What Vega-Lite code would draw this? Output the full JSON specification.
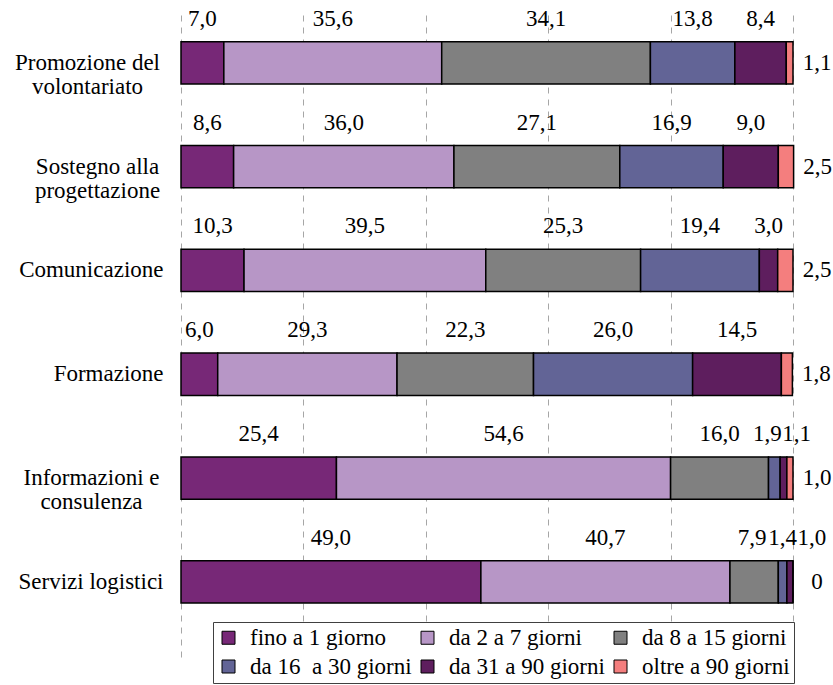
{
  "$schema": "https://vega.github.io/schema/vega-lite/v6.json",
  "width": 612,
  "height": 645,
  "autosize": {"type": "none"},
  "padding": {"left": 181, "top": 12, "right": 40, "bottom": 28},
  "background": "white",
  "config": {
    "view": {"stroke": null}
  },
  "data": {
    "values": [
      {"cat": "Promozione del volontariato", "seg": "fino a 1 giorno", "order": 1, "value": 7.0},
      {"cat": "Promozione del volontariato", "seg": "da 2 a 7 giorni", "order": 2, "value": 35.6},
      {"cat": "Promozione del volontariato", "seg": "da 8 a 15 giorni", "order": 3, "value": 34.1},
      {"cat": "Promozione del volontariato", "seg": "da 16  a 30 giorni", "order": 4, "value": 13.8},
      {"cat": "Promozione del volontariato", "seg": "da 31 a 90 giorni", "order": 5, "value": 8.4},
      {"cat": "Promozione del volontariato", "seg": "oltre a 90 giorni", "order": 6, "value": 1.1},
      {"cat": "Sostegno alla progettazione", "seg": "fino a 1 giorno", "order": 1, "value": 8.6},
      {"cat": "Sostegno alla progettazione", "seg": "da 2 a 7 giorni", "order": 2, "value": 36.0},
      {"cat": "Sostegno alla progettazione", "seg": "da 8 a 15 giorni", "order": 3, "value": 27.1},
      {"cat": "Sostegno alla progettazione", "seg": "da 16  a 30 giorni", "order": 4, "value": 16.9},
      {"cat": "Sostegno alla progettazione", "seg": "da 31 a 90 giorni", "order": 5, "value": 9.0},
      {"cat": "Sostegno alla progettazione", "seg": "oltre a 90 giorni", "order": 6, "value": 2.5},
      {"cat": "Comunicazione", "seg": "fino a 1 giorno", "order": 1, "value": 10.3},
      {"cat": "Comunicazione", "seg": "da 2 a 7 giorni", "order": 2, "value": 39.5},
      {"cat": "Comunicazione", "seg": "da 8 a 15 giorni", "order": 3, "value": 25.3},
      {"cat": "Comunicazione", "seg": "da 16  a 30 giorni", "order": 4, "value": 19.4},
      {"cat": "Comunicazione", "seg": "da 31 a 90 giorni", "order": 5, "value": 3.0},
      {"cat": "Comunicazione", "seg": "oltre a 90 giorni", "order": 6, "value": 2.5},
      {"cat": "Formazione", "seg": "fino a 1 giorno", "order": 1, "value": 6.0},
      {"cat": "Formazione", "seg": "da 2 a 7 giorni", "order": 2, "value": 29.3},
      {"cat": "Formazione", "seg": "da 8 a 15 giorni", "order": 3, "value": 22.3},
      {"cat": "Formazione", "seg": "da 16  a 30 giorni", "order": 4, "value": 26.0},
      {"cat": "Formazione", "seg": "da 31 a 90 giorni", "order": 5, "value": 14.5},
      {"cat": "Formazione", "seg": "oltre a 90 giorni", "order": 6, "value": 1.8},
      {"cat": "Informazioni e consulenza", "seg": "fino a 1 giorno", "order": 1, "value": 25.4},
      {"cat": "Informazioni e consulenza", "seg": "da 2 a 7 giorni", "order": 2, "value": 54.6},
      {"cat": "Informazioni e consulenza", "seg": "da 8 a 15 giorni", "order": 3, "value": 16.0},
      {"cat": "Informazioni e consulenza", "seg": "da 16  a 30 giorni", "order": 4, "value": 1.9},
      {"cat": "Informazioni e consulenza", "seg": "da 31 a 90 giorni", "order": 5, "value": 1.1},
      {"cat": "Informazioni e consulenza", "seg": "oltre a 90 giorni", "order": 6, "value": 1.0},
      {"cat": "Servizi logistici", "seg": "fino a 1 giorno", "order": 1, "value": 49.0},
      {"cat": "Servizi logistici", "seg": "da 2 a 7 giorni", "order": 2, "value": 40.7},
      {"cat": "Servizi logistici", "seg": "da 8 a 15 giorni", "order": 3, "value": 7.9},
      {"cat": "Servizi logistici", "seg": "da 16  a 30 giorni", "order": 4, "value": 1.4},
      {"cat": "Servizi logistici", "seg": "da 31 a 90 giorni", "order": 5, "value": 1.0},
      {"cat": "Servizi logistici", "seg": "oltre a 90 giorni", "order": 6, "value": 0}
    ]
  },
  "transform": [
    {"stack": "value", "groupby": ["cat"], "sort": [{"field": "order", "order": "ascending"}], "as": ["x0", "x1"]},
    {"calculate": "(datum.x0 + datum.x1) / 2", "as": "mid"},
    {"calculate": "datum.value == 0 ? '0' : replace(format(datum.value, '.1f'), '.', ',')", "as": "lbl"}
  ],
  "layer": [
    {
      "mark": {"type": "bar", "stroke": "black", "strokeWidth": 1.5},
      "encoding": {
        "y": {
          "field": "cat", "type": "nominal",
          "sort": ["Promozione del volontariato", "Sostegno alla progettazione", "Comunicazione", "Formazione", "Informazioni e consulenza", "Servizi logistici"],
          "scale": {"paddingInner": 0.5925, "paddingOuter": 0.403, "align": 0.355},
          "axis": {
            "title": null, "domain": false, "ticks": false, "tickSize": 0,
            "labelFont": "Liberation Serif", "labelFontSize": 23, "labelColor": "black",
            "labelLineHeight": 24, "labelLimit": 400, "labelBaseline": "middle",
            "labelExpr": "datum.value == 'Promozione del volontariato' ? ['Promozione del', 'volontariato'] : datum.value == 'Sostegno alla progettazione' ? ['Sostegno alla', 'progettazione'] : datum.value == 'Informazioni e consulenza' ? ['Informazioni e', 'consulenza'] : datum.value",
            "labelAlign": {"expr": "datum.value == 'Promozione del volontariato' || datum.value == 'Sostegno alla progettazione' || datum.value == 'Informazioni e consulenza' ? 'center' : 'right'"},
            "labelPadding": {"expr": "datum.value == 'Promozione del volontariato' ? 94 : datum.value == 'Sostegno alla progettazione' ? 84 : datum.value == 'Informazioni e consulenza' ? 90 : 18"}
          }
        },
        "x": {
          "field": "x0", "type": "quantitative",
          "scale": {"domain": [0, 100], "nice": false},
          "axis": {
            "title": null, "labels": false, "ticks": false, "domain": false, "grid": true,
            "values": [0, 20, 40, 60, 80, 100],
            "gridDash": [6, 6], "gridColor": "#A6A6A6", "gridWidth": 1
          }
        },
        "x2": {"field": "x1"},
        "color": {
          "field": "seg", "type": "nominal",
          "scale": {
            "domain": ["fino a 1 giorno", "da 2 a 7 giorni", "da 8 a 15 giorni", "da 16  a 30 giorni", "da 31 a 90 giorni", "oltre a 90 giorni"],
            "range": ["#772877", "#B796C6", "#808080", "#626496", "#5E1E5E", "#F47E7E"]
          },
          "legend": {
            "title": null, "orient": "none", "legendX": 32, "legendY": 610,
            "direction": "horizontal", "columns": 3,
            "symbolType": "square", "symbolSize": 169, "symbolStrokeColor": "black", "symbolStrokeWidth": 1, "symbolOpacity": 1,
            "labelFont": "Liberation Serif", "labelFontSize": 23, "labelColor": "black",
            "labelExpr": "replace(datum.label, '16  a', '16\u00a0 a')",
            "labelOffset": 10, "labelLimit": 300, "columnPadding": 4, "rowPadding": 5,
            "padding": 4, "strokeColor": "#404040", "fillColor": "white"
          }
        }
      }
    },
    {
      "transform": [{"filter": "datum.order < 6"}],
      "mark": {
        "type": "text", "baseline": "middle", "align": "center", "dy": -23, "fontSize": 23,
        "font": "Liberation Serif", "color": "black",
        "dx": {"expr": "datum.cat == 'Informazioni e consulenza' && datum.order == 4 ? -7 : datum.cat == 'Informazioni e consulenza' && datum.order == 5 ? 13 : datum.cat == 'Servizi logistici' && datum.order == 5 ? 22 : datum.cat == 'Servizi logistici' && datum.order == 3 ? -2 : 0"}
      },
      "encoding": {
        "y": {"field": "cat", "type": "nominal", "bandPosition": 0,
          "sort": ["Promozione del volontariato", "Sostegno alla progettazione", "Comunicazione", "Formazione", "Informazioni e consulenza", "Servizi logistici"]},
        "x": {"field": "mid", "type": "quantitative"},
        "text": {"field": "lbl"}
      }
    },
    {
      "transform": [{"filter": "datum.order == 6"}],
      "mark": {"type": "text", "baseline": "middle", "align": "center", "dx": 24, "fontSize": 23, "font": "Liberation Serif", "color": "black"},
      "encoding": {
        "y": {"field": "cat", "type": "nominal",
          "sort": ["Promozione del volontariato", "Sostegno alla progettazione", "Comunicazione", "Formazione", "Informazioni e consulenza", "Servizi logistici"]},
        "x": {"field": "x1", "type": "quantitative"},
        "text": {"field": "lbl"}
      }
    }
  ]
}
